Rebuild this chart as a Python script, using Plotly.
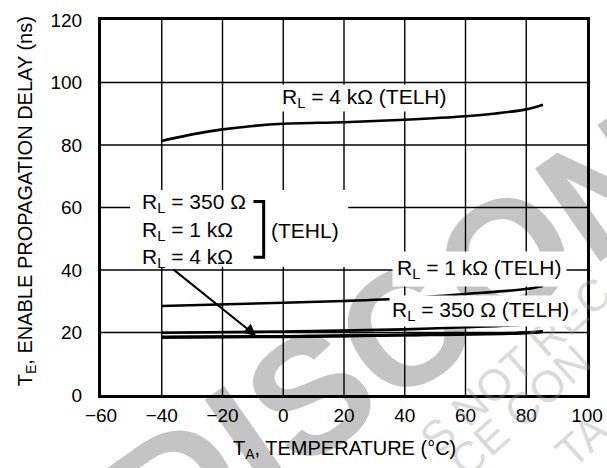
import plotly.graph_objects as go

# ---------------- data ----------------
temp_4k_telh = [-40, -30, -20, -10, 0, 20, 40, 60, 70, 80, 85.5]
delay_4k_telh = [81.3, 83.4, 85.0, 86.1, 86.8, 87.3, 88.1, 89.2, 90.1, 91.4, 92.9]

temp_1k_telh = [-40, 0, 20, 40, 60, 80, 85.5]
delay_1k_telh = [28.5, 29.5, 30.1, 30.9, 32.3, 33.9, 34.9]

temp_350_telh = [-40, 0, 40, 60, 80, 85.5]
delay_350_telh = [19.9, 20.3, 21.0, 21.7, 22.6, 23.3]

temp_tehl = [-40, 0, 40, 80, 85.5]
delay_350_tehl = [18.6, 18.8, 19.3, 20.0, 20.4]
delay_1k_tehl = [18.5, 18.7, 19.2, 19.9, 20.3]
delay_4k_tehl = [18.4, 18.6, 19.1, 19.8, 20.2]

x_ticks = [-60, -40, -20, 0, 20, 40, 60, 80, 100]
y_ticks = [0, 20, 40, 60, 80, 100, 120]

label_4k_telh = "R<sub>L</sub> = 4 kΩ (TELH)"
label_1k_telh = "R<sub>L</sub> = 1 kΩ (TELH)"
label_350_telh = "R<sub>L</sub> = 350 Ω (TELH)"
tehl_rows = ["R<sub>L</sub> = 350 Ω", "R<sub>L</sub> = 1 kΩ", "R<sub>L</sub> = 4 kΩ"]
tehl_label = "(TEHL)"
x_title = "T<sub>A</sub>, TEMPERATURE (°C)"
y_title = "T<sub>E</sub>, ENABLE PROPAGATION DELAY (ns)"
watermark = "DISCONTINUED"
watermark_small = ["S NOT REC", "CE CON", "TA"]

# ---------------- figure ----------------
FONT = "Liberation Sans, Arial, sans-serif"
LW = 2.6
GRID_HALF = 0.21  # half thickness of a horizontal grid band, in y units (~1.3 px)

fig = go.Figure()
series = [
    (temp_4k_telh, delay_4k_telh),
    (temp_1k_telh, delay_1k_telh),
    (temp_350_telh, delay_350_telh),
    (temp_tehl, delay_350_tehl),
    (temp_tehl, delay_1k_tehl),
    (temp_tehl, delay_4k_tehl),
]
for xs, ys in series:
    fig.add_trace(go.Scatter(
        x=xs, y=ys, mode="lines",
        line=dict(color="black", width=LW, shape="spline", smoothing=0.8),
        hoverinfo="skip", showlegend=False,
    ))

# watermark, drawn under grid and data
fig.add_shape(
    type="rect", xref="paper", yref="paper", layer="below",
    x0=1.09, x1=1.11, y0=0.650, y1=0.670,
    line=dict(width=0), fillcolor="rgba(0,0,0,0)",
    label=dict(text=watermark, textangle=-35, textposition="middle center",
               font=dict(family=FONT, size=165, color="#c4c4c4", weight="bold")),
)

# grid lines at the interior tick positions
for xv in x_ticks[1:-1]:
    fig.add_shape(type="line", xref="x", yref="y", layer="below",
                  x0=xv, x1=xv, y0=y_ticks[0], y1=y_ticks[-1], line=dict(color="black", width=1.4))
for yv in y_ticks[1:-1]:
    fig.add_shape(type="rect", xref="x", yref="y", layer="below",
                  x0=x_ticks[0], x1=x_ticks[-1], y0=yv - GRID_HALF, y1=yv + GRID_HALF,
                  line=dict(width=0), fillcolor="black")

# white box behind the TEHL legend group
fig.add_shape(
    type="rect", xref="x", yref="y", layer="above",
    x0=-50.4, x1=21.4, y0=41.0, y1=65.6,
    line=dict(width=0), fillcolor="white",
)
# bracket
fig.add_shape(
    type="path", xref="x", yref="y", layer="above",
    path="M -9.8 61.9 L -6.45 61.9 L -6.45 44.1 L -9.8 44.1",
    line=dict(color="black", width=3),
)

ann = []
# faint secondary watermark fragments (first, so other texts lie over them)
for txt, (px, py) in zip(watermark_small, [(0.852, 0.08), (0.862, -0.04), (0.99, -0.12)]):
    ann.append(dict(x=px, y=py, xref="paper", yref="paper", text=txt, showarrow=False,
                    textangle=-42, xanchor="center", yanchor="middle",
                    font=dict(family=FONT, size=44, color="rgba(150,150,150,0.35)")))
TXT = dict(family=FONT, size=21, color="black")
ann.append(dict(x=26.7, y=95.2, text=label_4k_telh, xref="x", yref="y", showarrow=False,
                xanchor="center", yanchor="middle", font=TXT, bgcolor="white", borderpad=0))
ann.append(dict(x=64.5, y=40.4, text=label_1k_telh, xref="x", yref="y", showarrow=False,
                xanchor="center", yanchor="middle", font=TXT, bgcolor="white", borderpad=4))
ann.append(dict(x=65.0, y=26.8, text=label_350_telh, xref="x", yref="y", showarrow=False,
                xanchor="center", yanchor="middle", font=TXT, bgcolor="white", borderpad=2))
for row, yv in zip(tehl_rows, [61.5, 52.6, 44.0]):
    ann.append(dict(x=-47.3, y=yv, text=row, xref="x", yref="y", showarrow=False,
                    xanchor="left", yanchor="middle", font=TXT))
ann.append(dict(x=-4.8, y=52.6, text=tehl_label, xref="x", yref="y", showarrow=False,
                xanchor="left", yanchor="middle", font=TXT))
# arrow
ann.append(dict(x=-8.9, y=18.9, ax=-36.6, ay=40.5, xref="x", yref="y", axref="x", ayref="y",
                text="", showarrow=True, arrowhead=2, arrowsize=1.2, arrowwidth=2,
                arrowcolor="black"))
# axis titles
ann.append(dict(x=0.5, y=-0.145, xref="paper", yref="paper", text=x_title, showarrow=False,
                xanchor="center", yanchor="middle", font=dict(family=FONT, size=20, color="black")))
ann.append(dict(x=-0.154, y=0.517, xref="paper", yref="paper", text=y_title, showarrow=False,
                textangle=-90, xanchor="center", yanchor="middle",
                font=dict(family=FONT, size=20, color="black")))

fig.update_layout(
    template="none",
    width=607, height=468,
    margin=dict(l=101, r=20, t=20, b=73, autoexpand=False),
    paper_bgcolor="white", plot_bgcolor="white",
    font=dict(family=FONT, size=19, color="black"),
    annotations=ann,
    showlegend=False,
)
axis_common = dict(
    showgrid=False,
    showline=True, linecolor="black", linewidth=3, mirror=True,
    ticks="outside", tickcolor="rgba(0,0,0,0)", zeroline=False,
    tickmode="array", automargin=False,
    tickfont=dict(family=FONT, size=19, color="black"),
)
fig.update_xaxes(range=[x_ticks[0], x_ticks[-1]], tickvals=x_ticks,
                 ticktext=[str(v).replace("-", "\u2212") for v in x_ticks], ticklen=1, **axis_common)
fig.update_yaxes(range=[y_ticks[0], y_ticks[-1]], tickvals=y_ticks,
                 ticktext=[str(v) for v in y_ticks], ticklen=12, **axis_common)

fig.write_html("out.html", post_script="document.body.style.margin='0px';",
               config={"displayModeBar": False})
